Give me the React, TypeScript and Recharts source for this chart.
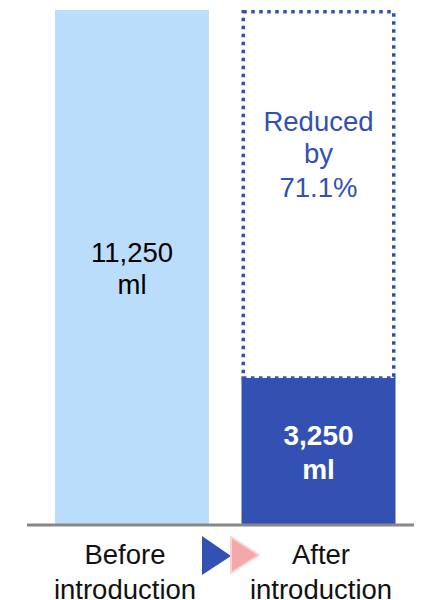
import React from "react";
import { BarChart, Bar, XAxis, YAxis, LabelList, Cell, Customized } from "recharts";

// Daily usage before/after introduction (ml)
const categories = ["Before introduction", "After introduction"];
const usage = [11250, 3250];
// Part of the original volume that was saved (shown as a dotted outline)
const reduction = [null, 8000];
const unit = "ml";

const FONT = '"Liberation Sans", Arial, sans-serif';
const LIGHT = "#BBDDFC";
const DARK = "#3350B3";
const AXIS = "#888888";
const PINK = "#F4A8A7";
const PINK_EDGE = "#FBD2D1";

const CHART_W = 414;
const CHART_H = 592;
const MARGIN = { top: 2, right: 3, left: 19, bottom: 0 };
const AXIS_H = 75;

const data = categories.map((name, i) => ({
  name,
  usage: usage[i],
  reduction: reduction[i],
}));

const reducedPct = ((1 - usage[1] / usage[0]) * 100).toFixed(1);

const UsageLabel = (props: any) => {
  const { x, y, width, height, index, value } = props;
  const cx = x + width / 2;
  const cy = y + height / 2;
  const after = index === 1;
  return (
    <text
      textAnchor="middle"
      fontFamily={FONT}
      fontSize={after ? 28 : 27.5}
      fontWeight={after ? 700 : 400}
      fill={after ? "#ffffff" : "#000000"}
    >
      <tspan x={cx} y={after ? cy - 6 : cy - 5.5}>
        {Number(value).toLocaleString("en-US")}
      </tspan>
      <tspan x={cx} y={after ? cy + 28 : cy + 26.5}>
        {unit}
      </tspan>
    </text>
  );
};

const ReductionLabel = (props: any) => {
  const { x, y, width, height } = props;
  if (!height || height <= 0) return null;
  const cx = x + width / 2;
  return (
    <text textAnchor="middle" fontFamily={FONT} fontSize={27.5} fill={DARK}>
      <tspan x={cx} y={y + 121}>Reduced</tspan>
      <tspan x={cx} y={y + 153}>by</tspan>
      <tspan x={cx} y={y + 187}>{reducedPct}%</tspan>
    </text>
  );
};

const DottedOutline = (props: any) => {
  const { x, y, width, height } = props;
  if (!height || height <= 0) return null;
  const sw = 3.5;
  return (
    <rect
      x={x + sw / 2}
      y={y + sw / 2}
      width={width - sw}
      height={height}
      fill="#ffffff"
      stroke={DARK}
      strokeWidth={sw}
      strokeDasharray="3.5 4.5"
    />
  );
};

const CategoryTick = (props: any) => {
  const { x, y, payload } = props;
  const [first, ...rest] = String(payload.value).split(" ");
  return (
    <text textAnchor="middle" fontFamily={FONT} fontSize={27.5} fill="#111111">
      <tspan x={x} y={y + 38.5}>{first}</tspan>
      <tspan x={x} y={y + 73.5}>{rest.join(" ")}</tspan>
    </text>
  );
};

// Two chevrons between the category labels, pointing from "before" to "after"
const StepArrows = () => {
  const plotW = CHART_W - MARGIN.left - MARGIN.right;
  const mx = MARGIN.left + plotW / 2;
  const ay = CHART_H - MARGIN.bottom - AXIS_H;
  return (
    <g>
      <polygon
        points={`${mx - 21},${ay + 11} ${mx - 21},${ay + 50} ${mx + 8},${ay + 31}`}
        fill={DARK}
      />
      <polygon
        points={`${mx + 8},${ay + 12} ${mx + 8},${ay + 48} ${mx + 36},${ay + 30}`}
        fill={PINK}
        stroke={PINK_EDGE}
        strokeWidth={2}
        strokeLinejoin="round"
      />
    </g>
  );
};

export default function App() {
  return (
    <BarChart width={CHART_W} height={CHART_H} data={data} margin={MARGIN}>
      <YAxis hide domain={[0, "dataMax"]} />
      <XAxis
        xAxisId="labels"
        dataKey="name"
        height={AXIS_H}
        tickLine={false}
        tickSize={0}
        tickMargin={0}
        axisLine={{ stroke: AXIS, strokeWidth: 3 }}
        tick={<CategoryTick />}
        interval={0}
      />
      <XAxis
        xAxisId="bars"
        dataKey="name"
        hide
        height={0}
        padding={{ left: 12, right: 7 }}
      />
      <Bar
        xAxisId="bars"
        dataKey="usage"
        stackId="a"
        barSize={154}
        isAnimationActive={false}
      >
        {data.map((d, i) => (
          <Cell key={d.name} fill={i === 0 ? LIGHT : DARK} />
        ))}
        <LabelList dataKey="usage" content={<UsageLabel />} />
      </Bar>
      <Bar
        xAxisId="bars"
        dataKey="reduction"
        stackId="a"
        barSize={154}
        shape={<DottedOutline />}
        isAnimationActive={false}
      >
        <LabelList dataKey="reduction" content={<ReductionLabel />} />
      </Bar>
      <Customized component={<StepArrows />} />
    </BarChart>
  );
}
